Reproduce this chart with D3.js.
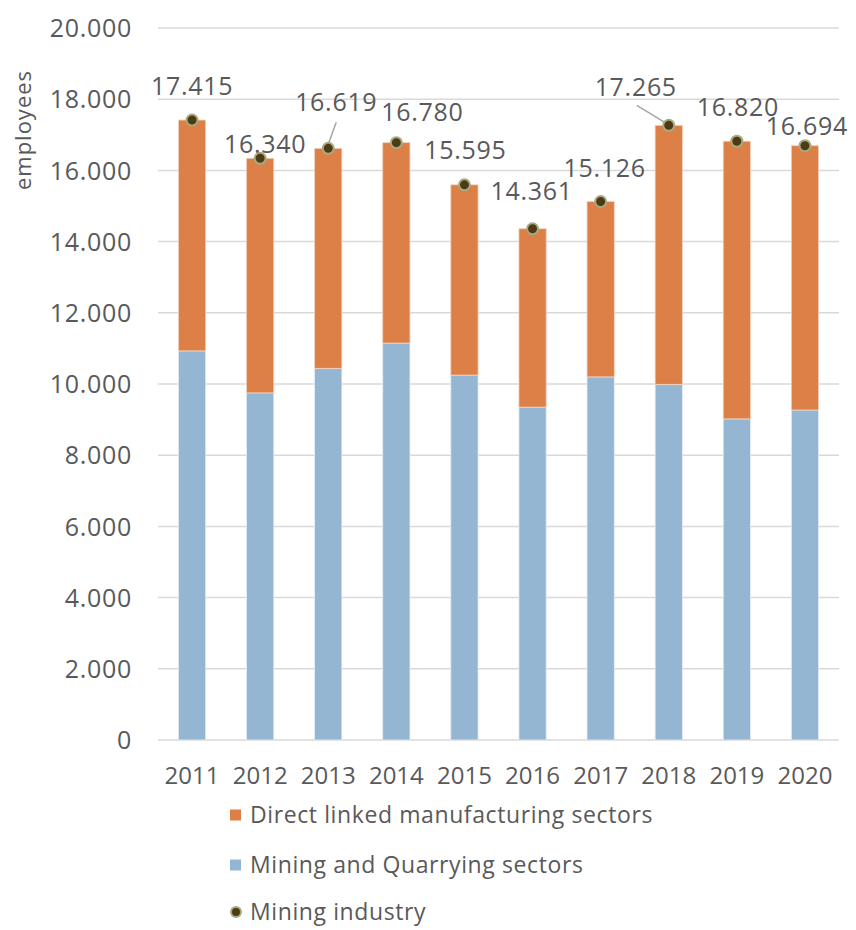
<!DOCTYPE html>
<html><head><meta charset="utf-8">
<script src="https://cdn.jsdelivr.net/npm/d3@7"></script>
<style>body{margin:0;background:#fff}svg{display:block}text{font-family:"Open Sans",sans-serif;fill:#595959}</style>
</head><body><svg id="c" width="856" height="930"></svg>
<script>
const years = ["2011","2012","2013","2014","2015","2016","2017","2018","2019","2020"];
const miningQuarrying = [10930, 9750, 10440, 11150, 10250, 9350, 10200, 9990, 9020, 9270];
const miningIndustry = [17415, 16340, 16619, 16780, 15595, 14361, 15126, 17265, 16820, 16694];
const directLinked = miningIndustry.map((t,i)=>t - miningQuarrying[i]);
const yTicks = [0,2000,4000,6000,8000,10000,12000,14000,16000,18000,20000];
const seriesNames = ["Direct linked manufacturing sectors","Mining and Quarrying sectors","Mining industry"];
// label offsets relative to point (dx, dy of text centre), leader flag
const labelOffsets = [[0,-34,0],[5,-14,0],[8,-46,1],[26,-30,0],[1,-35,0],[-1,-37,0],[4,-33,0],[-33,-38,1],[1,-34,0],[2,-19,0]];

const svg = d3.select("#c");
const x = d3.scaleBand().domain(years).range([158,839]).paddingInner(0.6).paddingOuter(0.3);
const y = d3.scaleLinear().domain([0,20000]).range([740,28]);
const fmt = v => d3.format(",")(v).replace(/,/g,".");

// grid
svg.append("g").selectAll("line").data(yTicks).join("line")
  .attr("x1",158).attr("x2",839).attr("y1",d=>y(d)).attr("y2",d=>y(d))
  .attr("stroke","#d9d9d9").attr("stroke-width",1.5);

// y axis labels
const yAxis = svg.append("g").attr("transform","translate(132,0)")
  .call(d3.axisLeft(y).tickValues(yTicks).tickFormat(fmt).tickSize(0).tickPadding(0));
yAxis.select(".domain").remove();
yAxis.selectAll("text").style("font-size","25px").attr("fill","#595959").attr("dy","0.35em").style("letter-spacing","0.7px");

svg.append("text").attr("transform","translate(23,130) rotate(-90)").attr("text-anchor","middle")
  .attr("dy","0.35em").style("font-size","22px").style("letter-spacing","1px").text("employees");

// x axis labels
const xAxis = svg.append("g").attr("transform","translate(0,740)")
  .call(d3.axisBottom(x).tickSize(0).tickPadding(27));
xAxis.select(".domain").remove();
xAxis.selectAll("text").style("font-size","24px").attr("fill","#595959");

// bars
const bw = x.bandwidth();
svg.append("g").selectAll("rect").data(years).join("rect")
  .attr("x",d=>x(d)).attr("width",bw)
  .attr("y",(d,i)=>y(miningQuarrying[i])).attr("height",(d,i)=>y(0)-y(miningQuarrying[i]))
  .attr("fill","#94b6d2").attr("stroke","#e3ecf4").attr("stroke-width",0.8);
svg.append("g").selectAll("rect").data(years).join("rect")
  .attr("x",d=>x(d)).attr("width",bw)
  .attr("y",(d,i)=>y(miningIndustry[i])).attr("height",(d,i)=>y(miningQuarrying[i])-y(miningIndustry[i]))
  .attr("fill","#dd8047").attr("stroke","#f3d0bb").attr("stroke-width",0.8);

// leader lines
years.forEach((d,i)=>{
  const o = labelOffsets[i];
  if(!o[2]) return;
  const px = x(d)+bw/2, py = y(miningIndustry[i]);
  const lx = px+o[0], ly = py+o[1];
  let x1,y1;
  if(i===2){ x1 = lx; y1 = ly+20; } else { x1 = lx+1; y1 = ly+18; }
  svg.append("line").attr("x1",x1).attr("y1",y1).attr("x2",px-(i===7?4:0)).attr("y2",py-(i===7?3:4))
    .attr("stroke","#a6a6a6").attr("stroke-width",1.5);
});

// points
svg.append("g").selectAll("circle").data(years).join("circle")
  .attr("cx",d=>x(d)+bw/2).attr("cy",(d,i)=>y(miningIndustry[i])).attr("r",5.5)
  .attr("fill","#4f3a16").attr("stroke","#a5ab81").attr("stroke-width",2);

// data labels
svg.append("g").selectAll("text").data(years).join("text")
  .attr("x",(d,i)=>x(d)+bw/2+labelOffsets[i][0]).attr("y",(d,i)=>y(miningIndustry[i])+labelOffsets[i][1])
  .attr("text-anchor","middle").attr("dy","0.35em").style("font-size","25px").style("letter-spacing","0.7px")
  .attr("fill","#404040").text((d,i)=>fmt(miningIndustry[i]));

// legend
const lg = svg.append("g");
const rows = [815,865,912];
lg.append("rect").attr("x",230).attr("y",rows[0]-5.5).attr("width",11).attr("height",11).attr("fill","#dd8047");
lg.append("rect").attr("x",230).attr("y",rows[1]-5.5).attr("width",11).attr("height",11).attr("fill","#94b6d2");
lg.append("circle").attr("cx",236).attr("cy",rows[2]).attr("r",5).attr("fill","#4f3a16").attr("stroke","#a5ab81").attr("stroke-width",2);
lg.selectAll("text").data(seriesNames).join("text")
  .attr("x",250).attr("y",(d,i)=>rows[i]).attr("dy","0.35em").style("font-size","23px").style("letter-spacing","0.6px")
  .attr("fill","#595959").text(d=>d);
</script></body></html>
